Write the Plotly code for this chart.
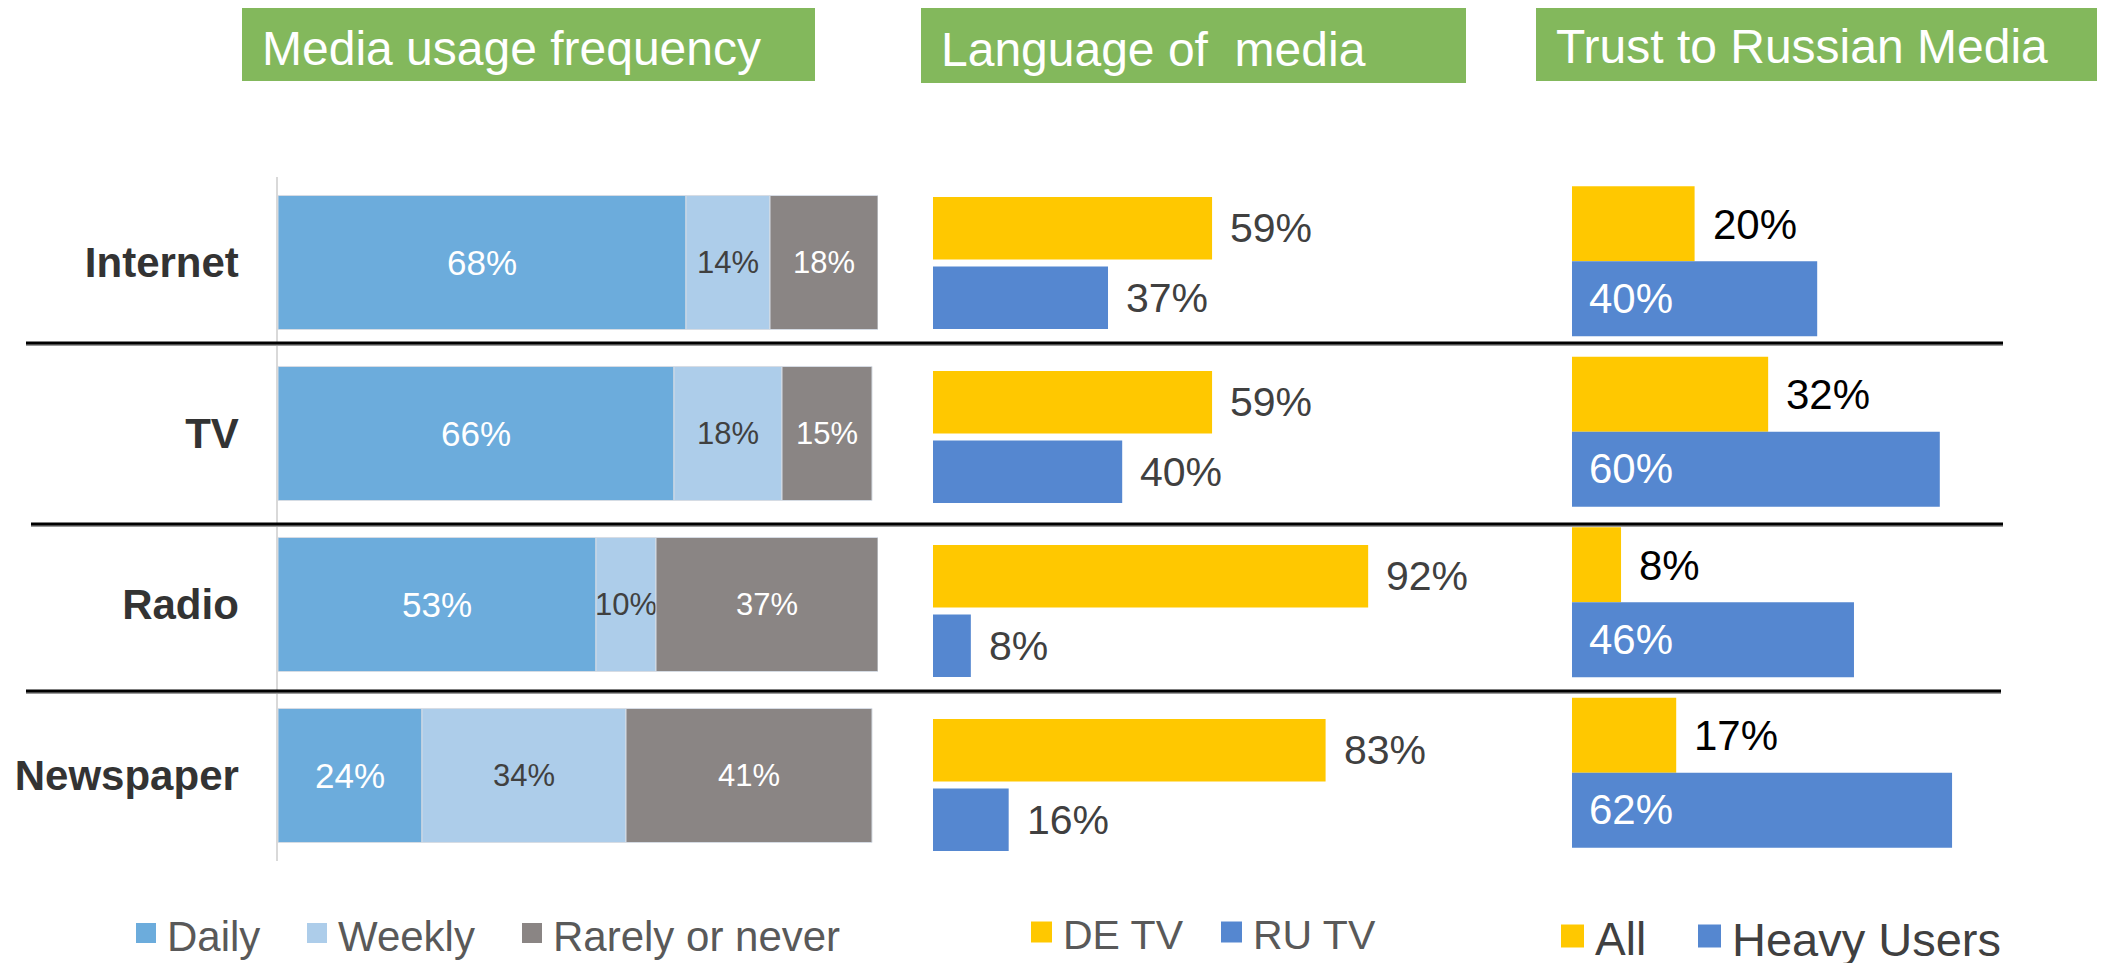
import plotly.graph_objects as go

W, H = 2105, 963
# the page body keeps its default 8px margin, so the figure is drawn 8px in
OFF = 8
FW, FH = W - OFF, H - OFF

categories = ["Internet", "TV", "Radio", "Newspaper"]

freq_names = ["Daily", "Weekly", "Rarely or never"]
daily = [68, 66, 53, 24]
weekly = [14, 18, 10, 34]
rarely = [18, 15, 37, 41]

lang_names = ["DE TV", "RU TV"]
de_tv = [59, 59, 92, 83]
ru_tv = [37, 40, 8, 16]

trust_names = ["All", "Heavy Users"]
trust_all = [20, 32, 8, 17]
trust_heavy = [40, 60, 46, 62]

titles = ["Media usage frequency", "Language of\u00a0 media", "Trust to Russian Media"]

FONT = "Arial, Liberation Sans, sans-serif"
C_DAILY, C_WEEKLY, C_RARE = "#6CACDC", "#ADCDEA", "#8A8584"
C_YEL, C_BLUE = "#FFC800", "#5587D0"
GREEN = "#83B85C"
EDGE = dict(color="#D6DCE4", width=1)


def px(x):
    return min(max((x - OFF) / FW, 0), 1)


def py(y):
    return min(max(1 - (y - OFF) / FH, 0), 1)


fig = go.Figure()

# panel 1: stacked frequency bars (stacked by hand through base)
base_weekly = daily
base_rare = [d + w for d, w in zip(daily, weekly)]
for vals, base, color, tcolor, tsize, name in [
    (daily, None, C_DAILY, "white", 35, freq_names[0]),
    (weekly, base_weekly, C_WEEKLY, "#404040", 31, freq_names[1]),
    (rarely, base_rare, C_RARE, "white", 31, freq_names[2]),
]:
    fig.add_trace(go.Bar(
        x=vals, y=categories, base=base, orientation="h", name=name,
        width=0.784, offset=-0.392,
        marker=dict(color=color, line=EDGE),
        text=[f"{v}%" for v in vals], textposition="inside",
        insidetextanchor="middle", constraintext="none", textangle=0,
        textfont=dict(size=tsize, color=tcolor, family=FONT),
        xaxis="x", yaxis="y",
    ))

# panel 2: language of media
fig.add_trace(go.Bar(x=de_tv, y=categories, orientation="h", name=lang_names[0],
                     width=0.36, offset=-0.38, marker=dict(color=C_YEL, line=dict(width=0)),
                     xaxis="x2", yaxis="y2"))
fig.add_trace(go.Bar(x=ru_tv, y=categories, orientation="h", name=lang_names[1],
                     width=0.36, offset=0.02, marker=dict(color=C_BLUE, line=dict(width=0)),
                     xaxis="x2", yaxis="y2"))

# panel 3: trust to russian media
fig.add_trace(go.Bar(x=trust_all, y=categories, orientation="h", name=trust_names[0],
                     width=0.44, offset=-0.44, marker=dict(color=C_YEL, line=dict(width=0)),
                     xaxis="x3", yaxis="y3"))
fig.add_trace(go.Bar(x=trust_heavy, y=categories, orientation="h", name=trust_names[1],
                     width=0.44, offset=0.0, marker=dict(color=C_BLUE, line=dict(width=0)),
                     xaxis="x3", yaxis="y3"))

annotations = []
for i, cat in enumerate(categories):
    annotations.append(dict(x=de_tv[i], y=cat, xref="x2", yref="y2", text=f"{de_tv[i]}%",
                            xanchor="left", yanchor="middle", xshift=16, yshift=35, showarrow=False,
                            font=dict(size=41, color="#404040", family=FONT)))
    annotations.append(dict(x=ru_tv[i], y=cat, xref="x2", yref="y2", text=f"{ru_tv[i]}%",
                            xanchor="left", yanchor="middle", xshift=16, yshift=-35, showarrow=False,
                            font=dict(size=41, color="#404040", family=FONT)))
    annotations.append(dict(x=trust_all[i], y=cat, xref="x3", yref="y3", text=f"{trust_all[i]}%",
                            xanchor="left", yanchor="middle", xshift=16, yshift=37, showarrow=False,
                            font=dict(size=42, color="#000000", family=FONT)))
    annotations.append(dict(x=0, y=cat, xref="x3", yref="y3", text=f"{trust_heavy[i]}%",
                            xanchor="left", yanchor="middle", xshift=15, yshift=-37, showarrow=False,
                            font=dict(size=42, color="white", family=FONT)))

shapes = []
# green title boxes
boxes = [(242, 8, 815, 81), (921, 7, 1466, 83), (1536, 5, 2100, 81)]
for (x0, y0, x1, y1), title in zip(boxes, titles):
    shapes.append(dict(type="rect", xref="paper", yref="paper", x0=px(x0), x1=px(x1),
                       y0=py(y1), y1=py(y0), fillcolor=GREEN, line=dict(width=0), layer="below"))
    annotations.append(dict(x=px(x0 + 18), y=py((y0 + y1) / 2 + 4), xref="paper", yref="paper",
                            text=title, xanchor="left", yanchor="middle", showarrow=False,
                            font=dict(size=48, color="white", family=FONT)))

# separator lines between rows (black with a grey shadow underneath)
for y, x0, x1 in [(343, 26, 2003), (524, 31, 2003), (691, 26, 2001)]:
    shapes.append(dict(type="line", xref="paper", yref="paper", x0=px(x0), x1=px(x1),
                       y0=py(y + 2), y1=py(y + 2), line=dict(color="#9A9A9A", width=2)))
    shapes.append(dict(type="line", xref="paper", yref="paper", x0=px(x0), x1=px(x1),
                       y0=py(y), y1=py(y), line=dict(color="#000000", width=3)))

# hand-made legends with bigger swatches
legend_items = [
    (freq_names[0], C_DAILY, 136, 933, 20, 42, "#595959"),
    (freq_names[1], C_WEEKLY, 307, 933, 20, 42, "#595959"),
    (freq_names[2], C_RARE, 522, 933, 20, 42, "#595959"),
    (lang_names[0], C_YEL, 1031, 932, 21, 41, "#595959"),
    (lang_names[1], C_BLUE, 1221, 932, 21, 41, "#595959"),
    (trust_names[0], C_YEL, 1561, 936, 23, 46, "#404040"),
    (trust_names[1], C_BLUE, 1698, 936, 23, 47, "#404040"),
]
for name, color, x, yc, s, fs, tc in legend_items:
    shapes.append(dict(type="rect", xref="paper", yref="paper", x0=px(x), x1=px(x + s),
                       y0=py(yc + s / 2), y1=py(yc - s / 2), fillcolor=color, line=dict(width=0)))
    annotations.append(dict(x=px(x + s + 9), y=py(yc + 3), xref="paper", yref="paper", text=name,
                            xanchor="left", yanchor="middle", showarrow=False,
                            font=dict(size=fs, color=tc, family=FONT)))

fig.update_layout(
    width=FW, height=FH,
    margin=dict(l=0, r=0, t=0, b=0),
    paper_bgcolor="white", plot_bgcolor="white",
    showlegend=False, barmode="overlay",
    font=dict(family=FONT),
    xaxis=dict(range=[0, 100], visible=False, domain=[px(278), px(878)], anchor="y"),
    xaxis2=dict(range=[0, 100], visible=False, domain=[px(933), px(1406)], anchor="y2"),
    # 6.13 px per percent, 80 % fits before the right edge
    xaxis3=dict(range=[0, 80], visible=False, domain=[px(1572), px(1572 + 80 * 6.13)], anchor="y3"),
    yaxis=dict(domain=[py(861), py(177)], autorange="reversed", anchor="x",
               showline=True, linecolor="#D9D9D9", linewidth=1.5, showgrid=False,
               ticks="", ticklabelstandoff=29,
               tickfont=dict(size=42, color="#333333", family=FONT, weight="bold")),
    yaxis2=dict(domain=[py(872), py(176)], autorange="reversed", anchor="x2",
                showticklabels=False, showgrid=False, showline=False),
    yaxis3=dict(domain=[py(858), py(176)], autorange="reversed", anchor="x3",
                showticklabels=False, showgrid=False, showline=False),
    shapes=shapes,
    annotations=annotations,
)

fig.write_html("out.html")
